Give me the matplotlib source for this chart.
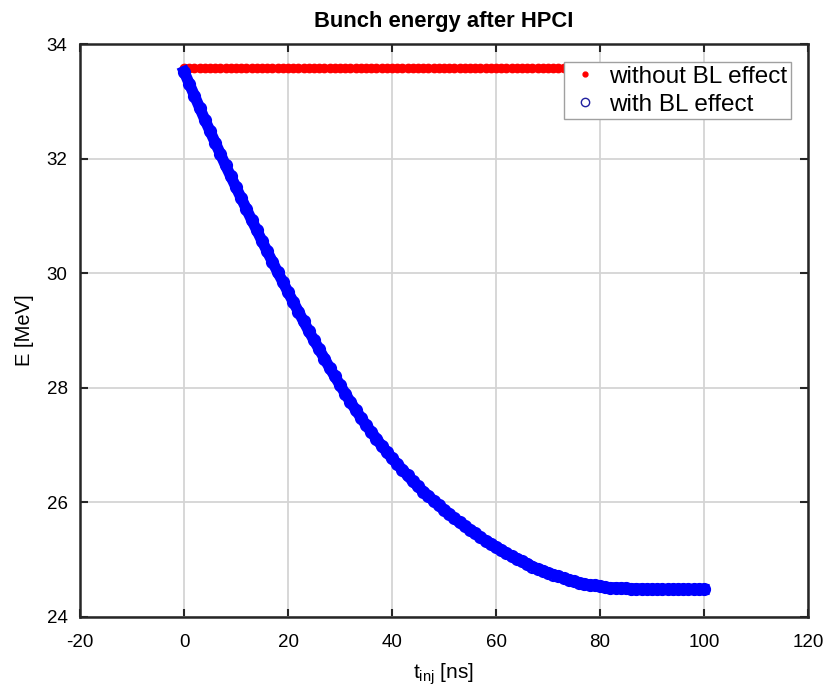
import matplotlib
matplotlib.use("Agg")
import matplotlib.pyplot as plt
from matplotlib.lines import Line2D

plt.rcParams["font.family"] = ["Liberation Sans", "DejaVu Sans"]
plt.rcParams["mathtext.fontset"] = "custom"
plt.rcParams["mathtext.rm"] = "Liberation Sans"
plt.rcParams["mathtext.it"] = "Liberation Sans"
plt.rcParams["axes.unicode_minus"] = False

# injection time [ns]
t_inj = list(range(0, 101))

# bunch energy with beam loading [MeV]
e_with = [
    33.52, 33.31, 33.10, 32.89, 32.68, 32.48, 32.28, 32.08, 31.88, 31.69,
    31.50, 31.31, 31.12, 30.93, 30.75, 30.56, 30.38, 30.20, 30.02, 29.85,
    29.67, 29.50, 29.33, 29.16, 28.99, 28.83, 28.67, 28.51, 28.35, 28.20,
    28.05, 27.90, 27.75, 27.62, 27.48, 27.35, 27.23, 27.11, 26.99, 26.88,
    26.77, 26.67, 26.57, 26.47, 26.37, 26.28, 26.19, 26.11, 26.03, 25.95,
    25.87, 25.80, 25.72, 25.65, 25.59, 25.52, 25.46, 25.39, 25.33, 25.28,
    25.22, 25.17, 25.11, 25.06, 25.02, 24.97, 24.93, 24.88, 24.84, 24.81,
    24.77, 24.74, 24.71, 24.68, 24.65, 24.62, 24.60, 24.58, 24.56, 24.55,
    24.54, 24.52, 24.51, 24.51, 24.50, 24.50, 24.49, 24.49, 24.49, 24.48,
    24.48, 24.48, 24.48, 24.48, 24.48, 24.48, 24.48, 24.48, 24.48, 24.48,
    24.48,
]

# bunch energy without beam loading [MeV] (flat)
e_flat = 33.58
e_without = [e_flat] * len(t_inj)

fig = plt.figure(figsize=(8.37, 6.89), dpi=100)
ax = fig.add_axes([0.0956, 0.1045, 0.8698, 0.8316])

ax.plot(t_inj, e_without, ".", color="red", ms=12, zorder=3)
ax.plot(t_inj, e_with, "-o", color="blue", lw=8, ms=8, mfc="none",
        mec="blue", mew=1.5, zorder=4)

ax.set_xlim(-20, 120)
ax.set_ylim(24, 34)
ax.set_xticks(range(-20, 121, 20))
ax.set_yticks(range(24, 35, 2))
ax.grid(True, color="#d4d4d4", lw=1.3)
ax.set_axisbelow(True)

for sp in ax.spines.values():
    sp.set_linewidth(1.8)
    sp.set_color("#262626")
ax.tick_params(direction="in", length=6, width=1.5, top=True, right=True,
               labelsize=13.5, color="#262626")
ax.tick_params(axis="x", pad=12)
ax.tick_params(axis="y", pad=9)

ax.set_title("Bunch energy after HPCI", fontsize=15.8, fontweight="bold", pad=12)
ax.set_xlabel(r"$\mathregular{t_{inj}}$ [ns]", fontsize=15, labelpad=8)
ax.set_ylabel("E [MeV]", fontsize=14.5, labelpad=9)

handles = [
    Line2D([], [], ls="none", marker=".", color="red", ms=7),
    Line2D([], [], ls="none", marker="o", mfc="none", mec="#2020a0", ms=6, mew=1),
]
leg = ax.legend(handles, ["without BL effect", "with BL effect"], loc="upper right",
                bbox_to_anchor=(0.9766, 0.9686), borderaxespad=0,
                fontsize=17.5, fancybox=False, framealpha=1, edgecolor="#a0a0a0",
                handlelength=1.4, handletextpad=0.3,
                labelspacing=0.25, borderpad=0.15)
leg.get_frame().set_linewidth(1.0)

fig.savefig("out.png", dpi=100)
